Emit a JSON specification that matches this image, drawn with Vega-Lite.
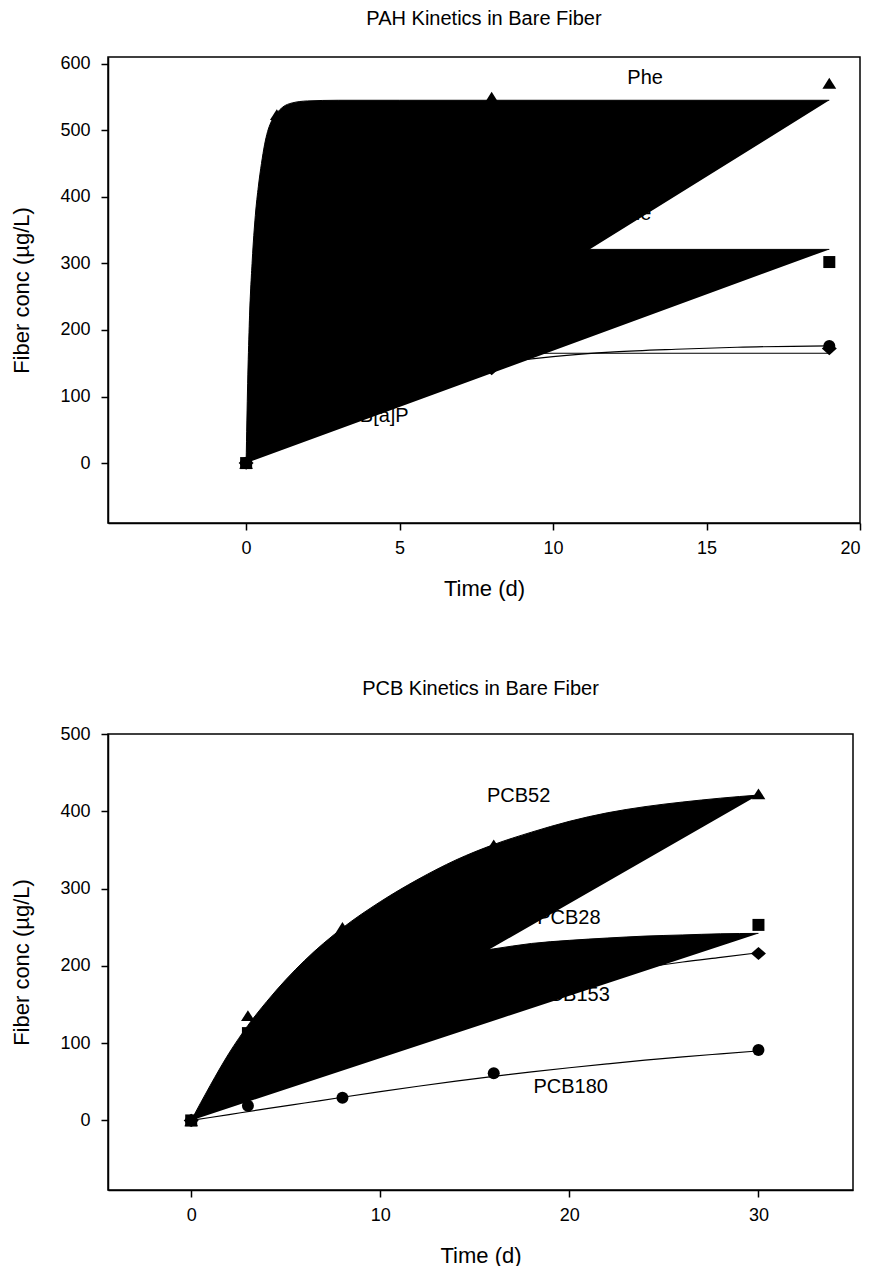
{
  "$schema": "https://vega.github.io/schema/vega-lite/v6.json",
  "background": "white",
  "padding": {"left": 10, "top": 7, "right": 5, "bottom": 5},
  "resolve": {"scale": {"shape": "independent"}},
  "config": {
    "font": "Liberation Sans",
    "view": {"stroke": "black", "strokeWidth": 1.5},
    "axis": {"domainColor": "black", "domainWidth": 1.5, "tickColor": "black", "tickWidth": 1.5, "tickSize": 7, "grid": false,
      "labelFont": "Liberation Sans", "labelFontSize": 18, "labelColor": "black",
      "titleFont": "Liberation Sans", "titleFontSize": 22, "titleFontWeight": "normal", "titleColor": "black"},
    "axisX": {"labelPadding": 9, "titlePadding": 21},
    "axisY": {"labelPadding": 11, "titlePadding": 26},
    "title": {"font": "Liberation Sans", "fontSize": 20, "fontWeight": "normal", "color": "black", "offset": 26},
    "text": {"font": "Liberation Sans", "fontSize": 20, "color": "black"}
  },
  "datasets": {
    "pahFill": [
      {"s": "Phe", "t": 0, "c": 0}, {"s": "Phe", "t": 0.05, "c": 120}, {"s": "Phe", "t": 0.1, "c": 205}, {"s": "Phe", "t": 0.2, "c": 305},
      {"s": "Phe", "t": 0.3, "c": 372}, {"s": "Phe", "t": 0.4, "c": 416}, {"s": "Phe", "t": 0.5, "c": 450}, {"s": "Phe", "t": 0.6, "c": 478},
      {"s": "Phe", "t": 0.7, "c": 498}, {"s": "Phe", "t": 0.8, "c": 511}, {"s": "Phe", "t": 0.9, "c": 520}, {"s": "Phe", "t": 1.0, "c": 526},
      {"s": "Phe", "t": 1.2, "c": 535}, {"s": "Phe", "t": 1.5, "c": 541}, {"s": "Phe", "t": 2, "c": 544}, {"s": "Phe", "t": 3, "c": 545},
      {"s": "Phe", "t": 5, "c": 545}, {"s": "Phe", "t": 10, "c": 545}, {"s": "Phe", "t": 19, "c": 545},
      {"s": "Pyr", "t": 0, "c": 0}, {"s": "Pyr", "t": 0.5, "c": 130}, {"s": "Pyr", "t": 1, "c": 205}, {"s": "Pyr", "t": 2, "c": 278},
      {"s": "Pyr", "t": 3, "c": 305}, {"s": "Pyr", "t": 4, "c": 315}, {"s": "Pyr", "t": 5, "c": 319}, {"s": "Pyr", "t": 6, "c": 320.5},
      {"s": "Pyr", "t": 8, "c": 321}, {"s": "Pyr", "t": 19, "c": 321}
    ],
    "pahThin": [
      {"s": "Chr", "t": 0, "c": 0}, {"s": "Chr", "t": 1, "c": 37}, {"s": "Chr", "t": 2, "c": 66}, {"s": "Chr", "t": 3, "c": 89},
      {"s": "Chr", "t": 4, "c": 107}, {"s": "Chr", "t": 5, "c": 121}, {"s": "Chr", "t": 6, "c": 133}, {"s": "Chr", "t": 7, "c": 142},
      {"s": "Chr", "t": 8, "c": 149}, {"s": "Chr", "t": 10, "c": 160}, {"s": "Chr", "t": 12, "c": 167}, {"s": "Chr", "t": 14, "c": 171},
      {"s": "Chr", "t": 16, "c": 174}, {"s": "Chr", "t": 19, "c": 176},
      {"s": "BaP", "t": 0, "c": 0}, {"s": "BaP", "t": 1, "c": 75}, {"s": "BaP", "t": 2, "c": 115}, {"s": "BaP", "t": 3, "c": 139},
      {"s": "BaP", "t": 4, "c": 151}, {"s": "BaP", "t": 5, "c": 158}, {"s": "BaP", "t": 6, "c": 161}, {"s": "BaP", "t": 8, "c": 164},
      {"s": "BaP", "t": 10, "c": 165}, {"s": "BaP", "t": 19, "c": 165}
    ],
    "pahPts": [
      {"s": "Phe", "t": 0, "c": 0}, {"s": "Phe", "t": 1, "c": 524}, {"s": "Phe", "t": 8, "c": 550}, {"s": "Phe", "t": 19, "c": 571},
      {"s": "Pyr", "t": 0, "c": 0}, {"s": "Pyr", "t": 1, "c": 215}, {"s": "Pyr", "t": 8, "c": 300}, {"s": "Pyr", "t": 19, "c": 302},
      {"s": "Chr", "t": 0, "c": 0}, {"s": "Chr", "t": 1, "c": 40}, {"s": "Chr", "t": 8, "c": 150}, {"s": "Chr", "t": 19, "c": 176},
      {"s": "BaP", "t": 0, "c": 0}, {"s": "BaP", "t": 1, "c": 60}, {"s": "BaP", "t": 8, "c": 142}, {"s": "BaP", "t": 19, "c": 172}
    ],
    "pahLabels": [
      {"label": "Phe", "t": 13.0, "c": 578},
      {"label": "Pyrene", "t": 12.17, "c": 374},
      {"label": "B[a]P", "t": 4.5, "c": 71}
    ],
    "pcbFill": [
      {"s": "PCB52", "t": 0, "c": 0}, {"s": "PCB52", "t": 1, "c": 45}, {"s": "PCB52", "t": 2, "c": 87}, {"s": "PCB52", "t": 3, "c": 123},
      {"s": "PCB52", "t": 4, "c": 154}, {"s": "PCB52", "t": 5, "c": 182}, {"s": "PCB52", "t": 6, "c": 207}, {"s": "PCB52", "t": 8, "c": 249},
      {"s": "PCB52", "t": 10, "c": 283}, {"s": "PCB52", "t": 12, "c": 312}, {"s": "PCB52", "t": 14, "c": 337}, {"s": "PCB52", "t": 16, "c": 357},
      {"s": "PCB52", "t": 18, "c": 373}, {"s": "PCB52", "t": 20, "c": 387}, {"s": "PCB52", "t": 22, "c": 398}, {"s": "PCB52", "t": 24, "c": 406},
      {"s": "PCB52", "t": 26, "c": 412}, {"s": "PCB52", "t": 28, "c": 417}, {"s": "PCB52", "t": 30, "c": 421},
      {"s": "PCB28", "t": 0, "c": 0}, {"s": "PCB28", "t": 1, "c": 34}, {"s": "PCB28", "t": 2, "c": 64}, {"s": "PCB28", "t": 3, "c": 89},
      {"s": "PCB28", "t": 4, "c": 110}, {"s": "PCB28", "t": 5, "c": 128}, {"s": "PCB28", "t": 6, "c": 144}, {"s": "PCB28", "t": 8, "c": 171},
      {"s": "PCB28", "t": 10, "c": 190}, {"s": "PCB28", "t": 12, "c": 204}, {"s": "PCB28", "t": 14, "c": 215}, {"s": "PCB28", "t": 16, "c": 222},
      {"s": "PCB28", "t": 18, "c": 229}, {"s": "PCB28", "t": 20, "c": 233}, {"s": "PCB28", "t": 22, "c": 236}, {"s": "PCB28", "t": 24, "c": 238.5},
      {"s": "PCB28", "t": 26, "c": 240}, {"s": "PCB28", "t": 28, "c": 241.5}, {"s": "PCB28", "t": 30, "c": 242}
    ],
    "pcbThin": [
      {"s": "PCB153", "t": 0, "c": 0}, {"s": "PCB153", "t": 2, "c": 29}, {"s": "PCB153", "t": 4, "c": 55}, {"s": "PCB153", "t": 6, "c": 78},
      {"s": "PCB153", "t": 8, "c": 99}, {"s": "PCB153", "t": 10, "c": 117}, {"s": "PCB153", "t": 12, "c": 134}, {"s": "PCB153", "t": 14, "c": 148},
      {"s": "PCB153", "t": 16, "c": 160}, {"s": "PCB153", "t": 18, "c": 171}, {"s": "PCB153", "t": 20, "c": 181}, {"s": "PCB153", "t": 22, "c": 190},
      {"s": "PCB153", "t": 24, "c": 198}, {"s": "PCB153", "t": 26, "c": 205}, {"s": "PCB153", "t": 28, "c": 211}, {"s": "PCB153", "t": 30, "c": 217},
      {"s": "PCB180", "t": 0, "c": 0}, {"s": "PCB180", "t": 2, "c": 7.6}, {"s": "PCB180", "t": 4, "c": 15.2}, {"s": "PCB180", "t": 6, "c": 22.6},
      {"s": "PCB180", "t": 8, "c": 30}, {"s": "PCB180", "t": 10, "c": 37.2}, {"s": "PCB180", "t": 12, "c": 44.2}, {"s": "PCB180", "t": 14, "c": 50.8},
      {"s": "PCB180", "t": 16, "c": 57}, {"s": "PCB180", "t": 18, "c": 62.8}, {"s": "PCB180", "t": 20, "c": 68.2}, {"s": "PCB180", "t": 22, "c": 73.2},
      {"s": "PCB180", "t": 24, "c": 78}, {"s": "PCB180", "t": 26, "c": 82.3}, {"s": "PCB180", "t": 28, "c": 86.2}, {"s": "PCB180", "t": 30, "c": 90}
    ],
    "pcbPts": [
      {"s": "PCB52", "t": 0, "c": 0}, {"s": "PCB52", "t": 3, "c": 136}, {"s": "PCB52", "t": 8, "c": 250}, {"s": "PCB52", "t": 16, "c": 357}, {"s": "PCB52", "t": 30, "c": 423},
      {"s": "PCB28", "t": 0, "c": 0}, {"s": "PCB28", "t": 3, "c": 113}, {"s": "PCB28", "t": 8, "c": 170}, {"s": "PCB28", "t": 16, "c": 205}, {"s": "PCB28", "t": 30, "c": 253},
      {"s": "PCB153", "t": 0, "c": 0}, {"s": "PCB153", "t": 3, "c": 42}, {"s": "PCB153", "t": 8, "c": 99}, {"s": "PCB153", "t": 16, "c": 160}, {"s": "PCB153", "t": 30, "c": 216},
      {"s": "PCB180", "t": 0, "c": 0}, {"s": "PCB180", "t": 3, "c": 19}, {"s": "PCB180", "t": 8, "c": 29.5}, {"s": "PCB180", "t": 16, "c": 61}, {"s": "PCB180", "t": 30, "c": 91}
    ],
    "pcbLabels": [
      {"label": "PCB52", "t": 15.64, "c": 420},
      {"label": "PCB28", "t": 18.3, "c": 262},
      {"label": "PCB153", "t": 18.2, "c": 162},
      {"label": "PCB180", "t": 18.1, "c": 43}
    ]
  },
  "vconcat": [
    {
      "width": 752,
      "height": 466,
      "title": {"text": "PAH Kinetics in Bare Fiber"},
      "encoding": {
        "x": {"field": "t", "type": "quantitative", "scale": {"domain": [-4.5, 20], "nice": false, "zero": false},
          "axis": {"title": "Time (d)", "values": [0, 5, 10, 15, 20]}},
        "y": {"field": "c", "type": "quantitative", "scale": {"domain": [-90, 610], "nice": false, "zero": false},
          "axis": {"title": "Fiber conc (µg/L)", "values": [0, 100, 200, 300, 400, 500, 600]}}
      },
      "layer": [
        {"data": {"name": "pahLabels"}, "mark": {"type": "text", "baseline": "middle", "align": "center"},
          "encoding": {"text": {"field": "label"}}},
        {"data": {"name": "pahFill"}, "mark": {"type": "line", "interpolate": "monotone", "fill": "black", "stroke": "black", "strokeWidth": 1},
          "encoding": {"detail": {"field": "s"}}},
        {"data": {"name": "pahThin"}, "mark": {"type": "line", "interpolate": "monotone", "stroke": "black", "strokeWidth": 1.2},
          "encoding": {"detail": {"field": "s"}}},
        {"data": {"name": "pahPts"}, "mark": {"type": "point", "filled": true, "color": "black", "opacity": 1, "size": 144},
          "encoding": {"shape": {"field": "s", "type": "nominal", "legend": null,
            "scale": {"domain": ["Phe", "Pyr", "Chr", "BaP"],
              "range": ["M0,-0.85L1.15,0.95L-1.15,0.95Z", "M-1,-1H1V1H-1Z", "circle", "M0,-1.1L1.25,0L0,1.1L-1.25,0Z"]}}}}
      ]
    },
    {
      "width": 745,
      "height": 456,
      "title": {"text": "PCB Kinetics in Bare Fiber"},
      "encoding": {
        "x": {"field": "t", "type": "quantitative", "scale": {"domain": [-4.4, 35], "nice": false, "zero": false},
          "axis": {"title": "Time (d)", "values": [0, 10, 20, 30]}},
        "y": {"field": "c", "type": "quantitative", "scale": {"domain": [-90, 500], "nice": false, "zero": false},
          "axis": {"title": "Fiber conc (µg/L)", "values": [0, 100, 200, 300, 400, 500]}}
      },
      "layer": [
        {"data": {"name": "pcbLabels"}, "mark": {"type": "text", "baseline": "middle", "align": "left"},
          "encoding": {"text": {"field": "label"}}},
        {"data": {"name": "pcbFill"}, "mark": {"type": "line", "interpolate": "monotone", "fill": "black", "stroke": "black", "strokeWidth": 1},
          "encoding": {"detail": {"field": "s"}}},
        {"data": {"name": "pcbThin"}, "mark": {"type": "line", "interpolate": "monotone", "stroke": "black", "strokeWidth": 1.2},
          "encoding": {"detail": {"field": "s"}}},
        {"data": {"name": "pcbPts"}, "mark": {"type": "point", "filled": true, "color": "black", "opacity": 1, "size": 144},
          "encoding": {"shape": {"field": "s", "type": "nominal", "legend": null,
            "scale": {"domain": ["PCB52", "PCB28", "PCB153", "PCB180"],
              "range": ["M0,-0.85L1.15,0.95L-1.15,0.95Z", "M-1,-1H1V1H-1Z", "M0,-1.1L1.25,0L0,1.1L-1.25,0Z", "circle"]}}}}
      ]
    }
  ],
  "spacing": 78
}
